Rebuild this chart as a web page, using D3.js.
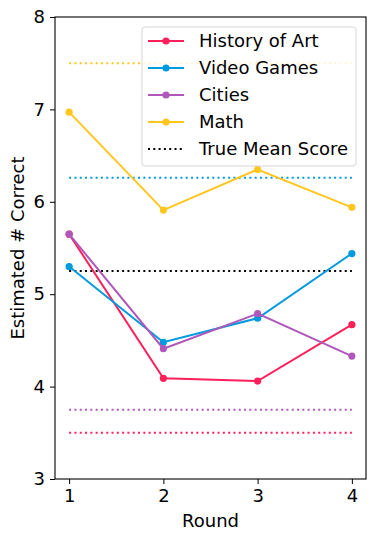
<!DOCTYPE html>
<html>
<head>
<meta charset="utf-8">
<script src="https://cdn.jsdelivr.net/npm/d3@7"></script>
<style>
  body { margin: 0; background: #fff; }
  svg { font-family: "DejaVu Sans", sans-serif; }
</style>
</head>
<body>
<div class="chart"></div>
<script>
// data
const rounds = [1, 2, 3, 4];
const historyOfArt = [5.65, 4.09, 4.06, 4.67];
const videoGames = [5.30, 4.48, 4.74, 5.44];
const cities = [5.65, 4.41, 4.79, 4.33];
const math = [6.97, 5.91, 6.35, 5.94];
const trueMeans = [3.5, 6.26, 3.75, 7.5]; // same order as the series
const overallMean = 5.25;
const yTicks = [3, 4, 5, 6, 7, 8];
const seriesNames = ["History of Art", "Video Games", "Cities", "Math"];
const colors = ["#ff1f5b", "#009ade", "#af58ba", "#ffc61e"];

const series = [historyOfArt, videoGames, cities, math];

const margin = {top: 17, left: 55, right: 8, bottom: 61};
const width = 374 - margin.left - margin.right,
    height = 540 - margin.top - margin.bottom;
const fontSize = "18px";

const svg = d3.select(".chart")
    .append("svg")
    .attr("width", 374)
    .attr("height", 540);

const gr = svg.append("g")
    .attr("transform", "translate(" + margin.left + "," + margin.top + ")");

const xScale = d3.scaleLinear()
    .domain([0.85, 4.15])
    .range([0, width]);

const yScale = d3.scaleLinear()
    .domain([3, 8])
    .range([height, 0]);

// true mean dotted lines
gr.selectAll(".mean")
    .data(trueMeans)
    .join("line")
    .attr("class", "mean")
    .attr("x1", xScale(1)).attr("x2", xScale(4))
    .attr("y1", d => yScale(d)).attr("y2", d => yScale(d))
    .attr("stroke", (d, i) => colors[i])
    .attr("stroke-width", 2)
    .attr("stroke-dasharray", "2,3.3");

gr.append("line")
    .attr("x1", xScale(1)).attr("x2", xScale(4))
    .attr("y1", yScale(overallMean)).attr("y2", yScale(overallMean))
    .attr("stroke", "#000")
    .attr("stroke-width", 2)
    .attr("stroke-dasharray", "2,3.3");

const line = d3.line()
    .x((d, i) => xScale(rounds[i]))
    .y(d => yScale(d));

series.forEach((vals, s) => {
    gr.append("path")
        .datum(vals)
        .attr("d", line)
        .attr("fill", "none")
        .attr("stroke", colors[s])
        .attr("stroke-width", 2);
    gr.selectAll(".pt" + s)
        .data(vals)
        .join("circle")
        .attr("cx", (d, i) => xScale(rounds[i]))
        .attr("cy", d => yScale(d))
        .attr("r", 3.6)
        .attr("fill", colors[s]);
});

// axes
const xAxis = d3.axisBottom(xScale).tickValues(rounds).tickFormat(d3.format("d")).tickSize(5).tickPadding(5);
const yAxis = d3.axisLeft(yScale).tickValues(yTicks).tickFormat(d3.format("d")).tickSize(5).tickPadding(5);

const xAxGr = gr.append("g")
    .attr("transform", "translate(0," + height + ")")
    .call(xAxis);
const yAxGr = gr.append("g").call(yAxis);

[xAxGr, yAxGr].forEach(ax => {
    ax.select(".domain").remove();
    ax.selectAll("text").attr("font-size", fontSize).attr("fill", "#000").attr("font-family", "DejaVu Sans");
    ax.selectAll("line").attr("stroke", "#000").attr("stroke-width", 1);
});

// frame
gr.append("rect")
    .attr("width", width).attr("height", height)
    .attr("fill", "none").attr("stroke", "#000").attr("stroke-width", 1.1);

// axis labels
svg.append("text")
    .attr("x", margin.left + width / 2)
    .attr("y", 527)
    .attr("text-anchor", "middle")
    .attr("font-size", fontSize)
    .text("Round");

svg.append("text")
    .attr("transform", "translate(24," + (margin.top + height / 2) + ") rotate(-90)")
    .attr("text-anchor", "middle")
    .attr("font-size", fontSize)
    .text("Estimated # Correct");

// legend
const lg = svg.append("g").attr("transform", "translate(142,27)");
lg.append("rect")
    .attr("width", 214).attr("height", 139)
    .attr("rx", 3)
    .attr("fill", "#fff").attr("fill-opacity", 0.8)
    .attr("stroke", "#d6d6d6").attr("stroke-width", 1);

const legendItems = seriesNames.map((n, i) => ({name: n, color: colors[i], dotted: false}))
    .concat([{name: "True Mean Score", color: "#000", dotted: true}]);

const items = lg.selectAll(".item")
    .data(legendItems)
    .join("g")
    .attr("transform", (d, i) => "translate(0," + (14 + i * 27) + ")");

items.append("line")
    .attr("x1", 6).attr("x2", 42)
    .attr("stroke", d => d.color)
    .attr("stroke-width", 2)
    .attr("stroke-dasharray", d => d.dotted ? "2,3.3" : null);

items.filter(d => !d.dotted).append("circle")
    .attr("cx", 24).attr("r", 3.6)
    .attr("fill", d => d.color);

items.append("text")
    .attr("x", 57)
    .attr("dy", "0.36em")
    .attr("font-size", fontSize)
    .text(d => d.name);
</script>
</body>
</html>
